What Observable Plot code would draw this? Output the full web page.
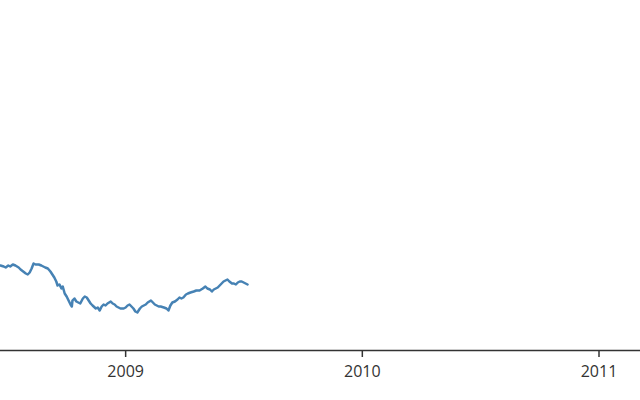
<!DOCTYPE html>
<html>
<head>
<meta charset="utf-8">
<script src="https://cdn.jsdelivr.net/npm/d3@7"></script>
<script src="https://cdn.jsdelivr.net/npm/@observablehq/plot@0.6"></script>
<style>
  html, body { margin: 0; padding: 0; background: #fff; }
  #chart { width: 640px; height: 400px; }
</style>
</head>
<body>
<div id="chart"></div>
<script>
const dates = [
  "2008-06-22","2008-06-27","2008-06-30","2008-07-04","2008-07-07","2008-07-11","2008-07-15","2008-07-20","2008-07-23","2008-07-27",
  "2008-07-31","2008-08-03","2008-08-06","2008-08-09","2008-08-12","2008-08-15","2008-08-20","2008-08-24","2008-08-27","2008-08-30",
  "2008-09-03","2008-09-07","2008-09-10","2008-09-13","2008-09-16","2008-09-18","2008-09-21","2008-09-24","2008-09-26","2008-09-29",
  "2008-10-02","2008-10-05","2008-10-08","2008-10-10","2008-10-11","2008-10-14","2008-10-17","2008-10-20","2008-10-23","2008-10-27",
  "2008-10-30","2008-11-02","2008-11-05","2008-11-08","2008-11-11","2008-11-16","2008-11-19","2008-11-22","2008-11-25","2008-11-28",
  "2008-12-01","2008-12-04","2008-12-09","2008-12-12","2008-12-15","2008-12-18","2008-12-21","2008-12-24","2008-12-29","2009-01-01",
  "2009-01-04","2009-01-07","2009-01-10","2009-01-13","2009-01-16","2009-01-19","2009-01-23","2009-01-26","2009-01-29","2009-02-01",
  "2009-02-04","2009-02-09","2009-02-12","2009-02-15","2009-02-18","2009-02-21","2009-02-24","2009-03-01","2009-03-05","2009-03-08",
  "2009-03-11","2009-03-14","2009-03-18","2009-03-22","2009-03-25","2009-03-28","2009-03-31","2009-04-04","2009-04-07","2009-04-11",
  "2009-04-16","2009-04-20","2009-04-25","2009-04-30","2009-05-04","2009-05-07","2009-05-11","2009-05-14","2009-05-17","2009-05-20",
  "2009-05-23","2009-05-26","2009-05-29","2009-06-01","2009-06-04","2009-06-07","2009-06-10","2009-06-14","2009-06-17","2009-06-20",
  "2009-06-23","2009-06-26","2009-06-29","2009-07-02","2009-07-05","2009-07-08"
];
const values = [
  85, 84, 83, 85, 84, 86, 85, 83, 81, 79,
  77, 76, 78, 82, 87, 86, 86, 85, 84, 83,
  82, 79, 76, 73, 69, 65, 66, 62, 64, 57,
  54, 50, 46, 44, 50, 52, 49, 48, 47, 52,
  54, 53, 50, 47, 45, 42, 43, 40, 44, 46,
  45, 47, 49, 47, 46, 44, 43, 42, 42, 43,
  45, 46, 44, 42, 39, 38, 42, 44, 45, 46,
  48, 50, 48, 46, 45, 44, 44, 43, 42, 40,
  45, 48, 49, 51, 53, 52, 53, 56, 57, 58,
  59, 60, 60, 62, 64, 62, 61, 59, 61, 62,
  63, 65, 67, 69, 70, 71, 69, 67, 67, 66,
  68, 69, 69, 68, 67, 66
];
const xDomain = ["2008-06-22", "2011-03-06"];
const yDomain = [0, 350];

const data = dates.map((d, i) => ({date: new Date(d), value: values[i]}));

const chart = Plot.plot({
  width: 640,
  height: 400,
  marginTop: 0,
  marginLeft: 0,
  marginRight: 0,
  marginBottom: 50,
  style: {fontFamily: "'Open Sans', sans-serif", fontSize: "16px", color: "#333", background: "#fff"},
  x: {type: "utc", domain: xDomain.map(d => new Date(d))},
  y: {domain: yDomain, axis: null},
  marks: [
    Plot.axisX({ticks: d3.utcYear.every(1), tickFormat: d3.utcFormat("%Y"), tickSize: 7, tickPadding: 8, fontSize: 16, stroke: "#333", strokeWidth: 1.5}),
    Plot.ruleY([0], {stroke: "#333", strokeWidth: 1.5}),
    Plot.line(data, {x: "date", y: "value", stroke: "#4682b4", strokeWidth: 2.5})
  ]
});
document.getElementById("chart").appendChild(chart);
</script>
</body>
</html>
